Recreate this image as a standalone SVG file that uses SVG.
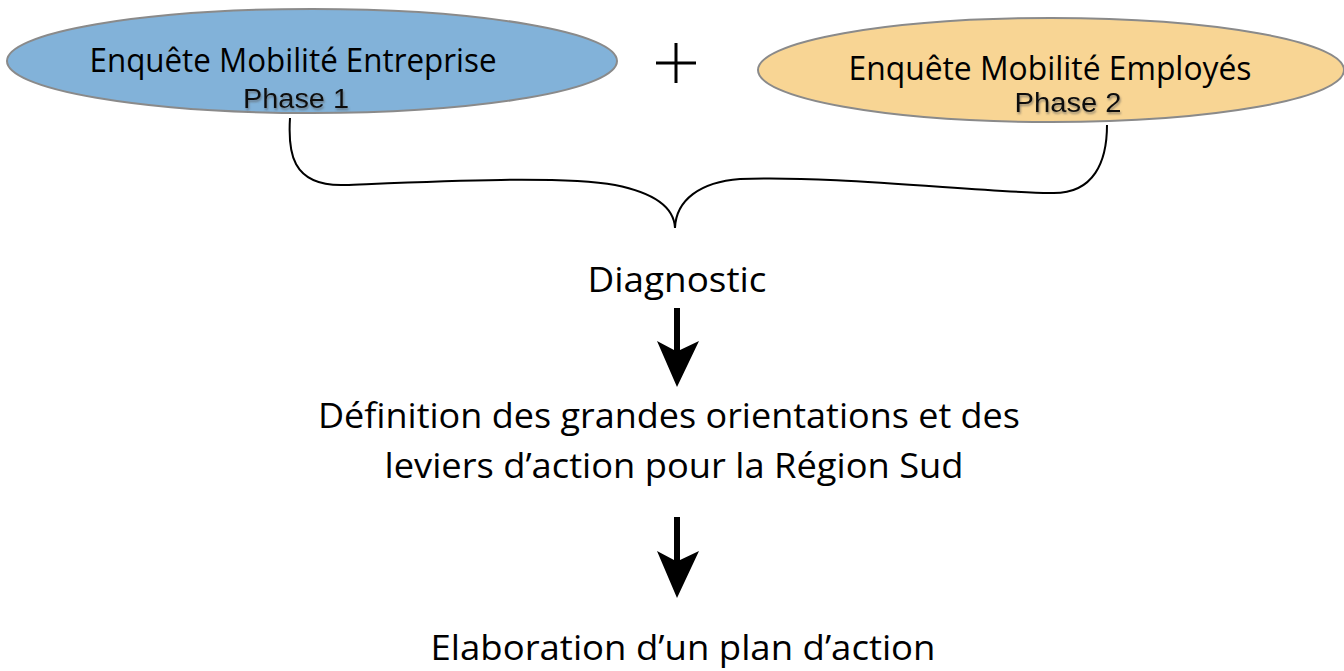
<svg xmlns="http://www.w3.org/2000/svg" width="1344" height="671" viewBox="0 0 1344 671">
<defs>
<style>
.main{font-family:"Open Sans","Noto Sans","Liberation Sans",sans-serif;fill:#000;}
.phase{font-family:"Liberation Sans",Arial,sans-serif;fill:#111;font-size:27px;filter:url(#sh);}
.brace{fill:none;stroke:#000;stroke-width:2;}
</style>
<filter id="sh" x="-10%" y="-30%" width="130%" height="160%">
<feDropShadow dx="1" dy="2" stdDeviation="1.2" flood-color="#555" flood-opacity="0.6"/>
</filter>
</defs>
<rect width="1344" height="671" fill="#fff"/>
<g id="node-entreprise">
<ellipse cx="312" cy="61" rx="305" ry="52" fill="#82b2d9" stroke="#8a8a8a" stroke-width="2"/>
<text class="main" x="293" y="72" font-size="32" text-anchor="middle" textLength="407" lengthAdjust="spacingAndGlyphs">Enquête Mobilité Entreprise</text>
<text class="phase" x="296" y="108" text-anchor="middle" textLength="106" lengthAdjust="spacingAndGlyphs">Phase 1</text>
</g>
<g id="node-plus">
<path d="M656,63 H696 M676,43 V83" stroke="#000" stroke-width="3" fill="none"/>
</g>
<g id="node-employes">
<ellipse cx="1051" cy="70" rx="293" ry="52" fill="#f8d594" stroke="#8a8a8a" stroke-width="2"/>
<text class="main" x="1050" y="80" font-size="32" text-anchor="middle" textLength="403" lengthAdjust="spacingAndGlyphs">Enquête Mobilité Employés</text>
<text class="phase" x="1068" y="112" text-anchor="middle" textLength="107" lengthAdjust="spacingAndGlyphs">Phase 2</text>
</g>
<g id="node-diagnostic">
<text class="main" x="677" y="292" font-size="34" text-anchor="middle" textLength="179" lengthAdjust="spacingAndGlyphs">Diagnostic</text>
</g>
<g id="node-definition">
<text class="main" x="669" y="428" font-size="34" text-anchor="middle" textLength="702" lengthAdjust="spacingAndGlyphs">Définition des grandes orientations et des</text>
<text class="main" x="674" y="478" font-size="34" text-anchor="middle" textLength="579" lengthAdjust="spacingAndGlyphs">leviers d’action pour la Région Sud</text>
</g>
<g id="node-elaboration">
<text class="main" x="683" y="660" font-size="34" text-anchor="middle" textLength="505" lengthAdjust="spacingAndGlyphs">Elaboration d’un plan d’action</text>
</g>
<g id="connectors">
<path class="brace" d="M290,118 C288,150 290,187 345,185 C420,182 560,175 615,185 C650,192 674,205 675,228"/>
<path class="brace" d="M1107,125 C1107,160 1095,195 1050,193 C980,192 830,175 740,179 C700,182 676,200 675,228"/>
<path d="M674,308 H680 V350 L699,341 L677,387 L657,341 L674,350 Z" fill="#000"/>
<path d="M674,517 H680 V560 L699,551 L677,598 L657,551 L674,560 Z" fill="#000"/>
</g>
</svg>
